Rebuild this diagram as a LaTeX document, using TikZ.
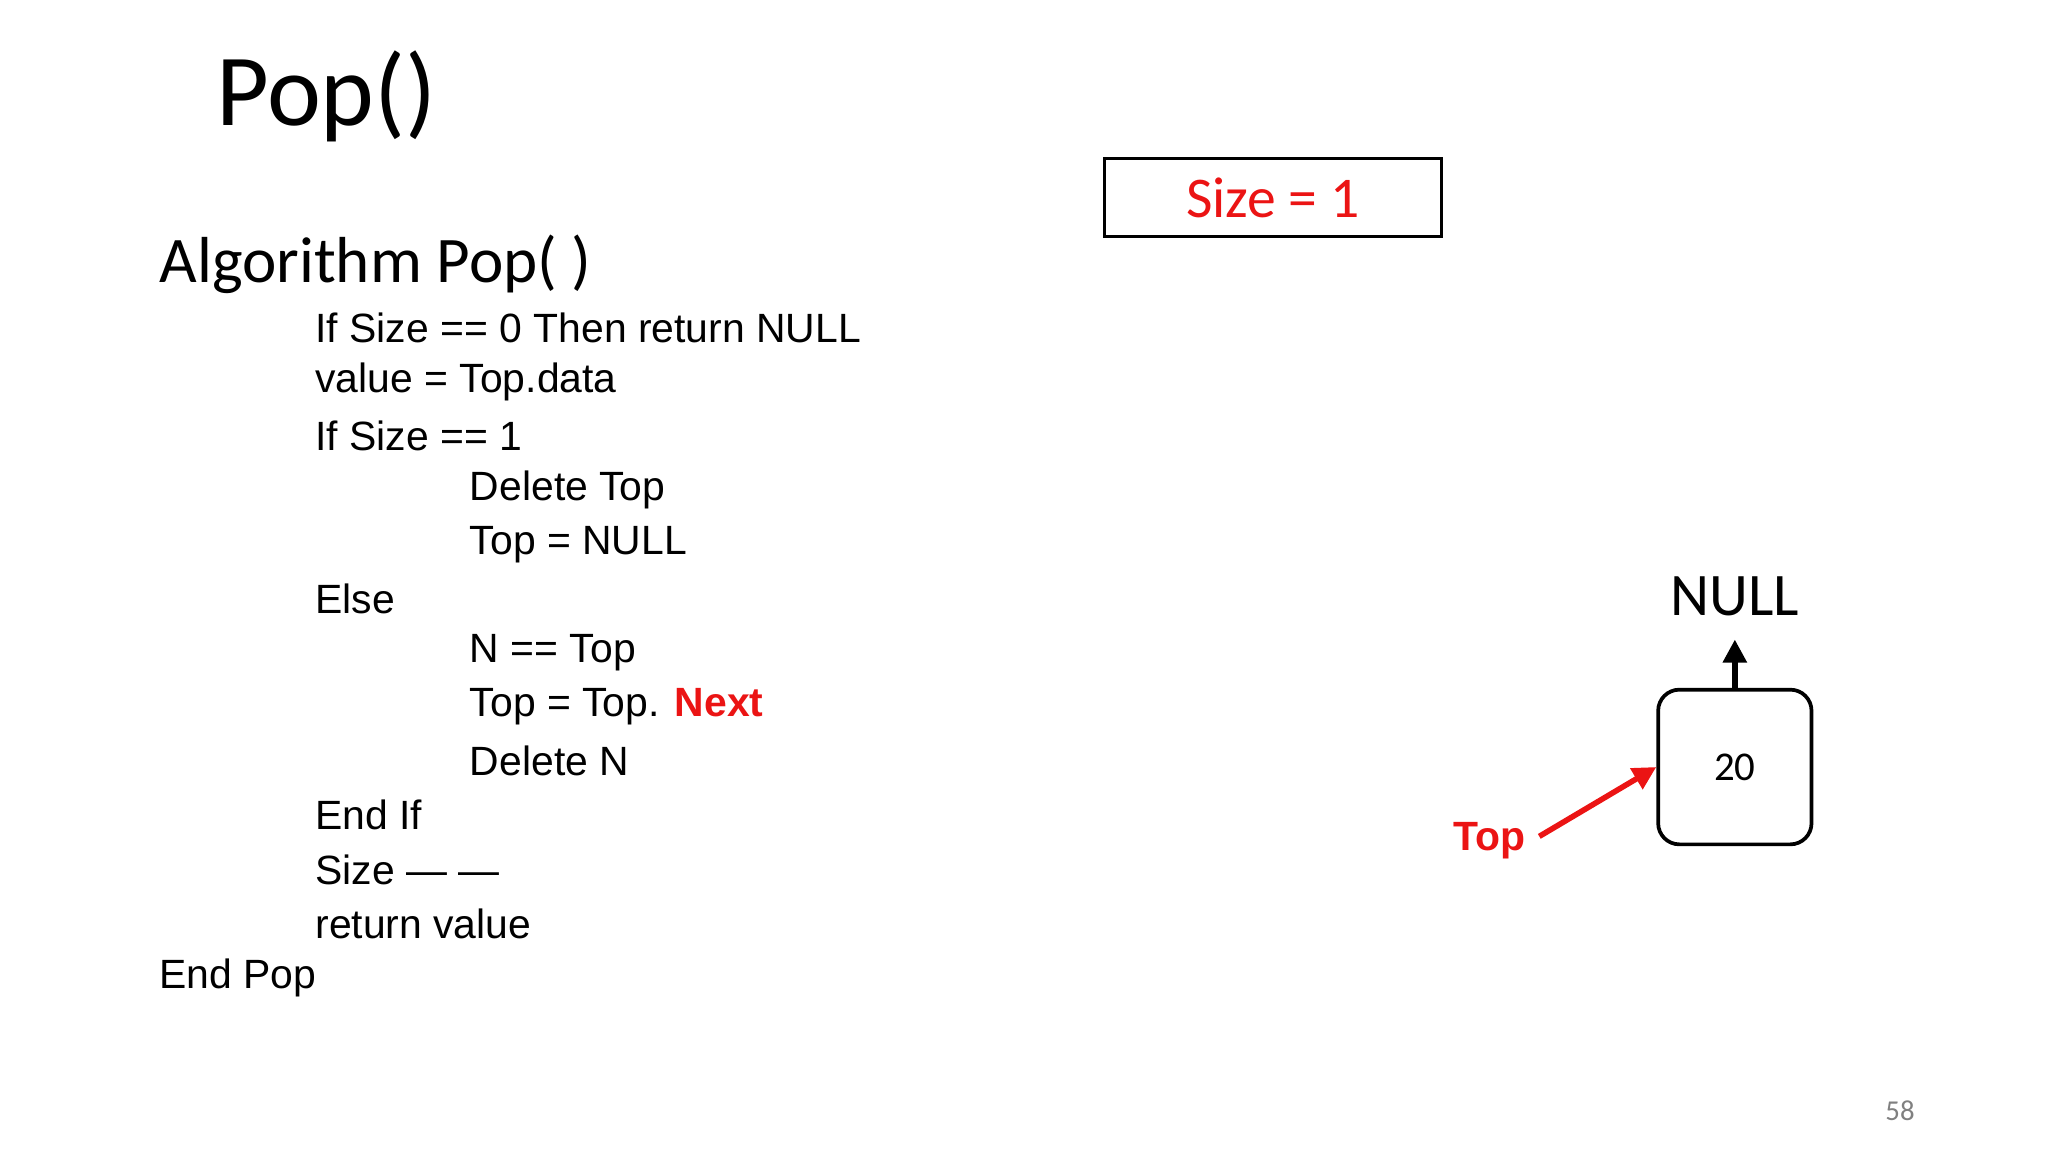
\documentclass[tikz,border=0pt]{standalone}
\usepackage{fontspec}
\setmainfont{Liberation Sans}
\newfontfamily\calfont{Carlito}
\usetikzlibrary{arrows.meta}
\definecolor{myred}{RGB}{235,20,20}
\begin{document}
\begin{tikzpicture}[x=0.01cm,y=-0.01cm,
  code/.style={anchor=west,inner sep=0,font=\fontsize{8.8pt}{10pt}\selectfont},
  ptr/.style={line width=1.2pt,-{Triangle[length=5pt,width=5pt]}}]
\useasboundingbox (0,0) rectangle (1550,872);
\node[anchor=west,inner sep=0,font=\calfont\fontsize{22pt}{24pt}\selectfont] (title) at (163,73) {Pop()};
\node[anchor=west,inner sep=0,font=\calfont\fontsize{14pt}{16pt}\selectfont] (alg) at (120,200) {Algorithm Pop( )};
\node[code] (l1) at (238,248) {If Size == 0 Then return NULL};
\node[code] (l2) at (238,289) {value = Top.data};
\node[code] (l3) at (238,330) {If Size == 1};
\node[code] (l4) at (355,371) {Delete Top};
\node[code] (l5) at (355,412) {Top = NULL};
\node[code] (l6) at (238,453) {Else};
\node[code] (l7) at (355,494) {N == Top};
\node[code] (l8) at (355,535) {Top = Top. \textcolor{myred}{\textbf{Next}}};
\node[code] (l9) at (355,576) {Delete N};
\node[code] (l10) at (238,617) {End If};
\node[code] (l11) at (238,658) {Size --- ---};
\node[code] (l12) at (238,699) {return value};
\node[code] (l13) at (120,740) {End Pop};
\node[draw,line width=0.8pt,minimum width=2.55cm,minimum height=0.59cm,text=myred,font=\calfont\fontsize{12.4pt}{14pt}\selectfont] (size) at (963.5,149.5) {Size = 1};
\node[draw,line width=0.8pt,rounded corners=0.16cm,minimum width=1.16cm,minimum height=1.17cm,font=\calfont\fontsize{8.8pt}{10pt}\selectfont] (n20) at (1313,580.5) {20};
\node[font=\calfont\fontsize{13pt}{15pt}\selectfont,inner sep=0] (null) at (1313,451) {NULL};
\coordinate (nt) at (1313,484);
\draw[ptr] (n20.north) -- (nt);
\node[text=myred,font=\bfseries\fontsize{8.8pt}{10pt}\selectfont,inner sep=0] (top) at (1127,636) {Top};
\coordinate (ts) at (1165,633);
\draw[ptr,myred] (ts) -- (n20.west);
\node[text=gray,font=\calfont\fontsize{6.2pt}{7pt}\selectfont] (pg) at (1438,841) {58};
\end{tikzpicture}
\end{document}
